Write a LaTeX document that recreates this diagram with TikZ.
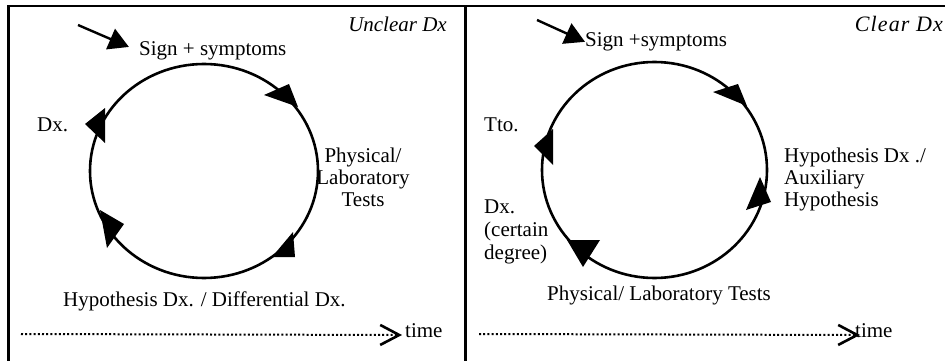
\documentclass[tikz,border=0pt]{standalone}
\usepackage{fontspec}
\setmainfont{Liberation Serif}
\usetikzlibrary{arrows.meta}
\begin{document}
\begin{tikzpicture}[x=1pt,y=-1pt,
  lbl/.style={inner sep=0pt, font=\fontsize{21}{22}\selectfont},
  lbltall/.style={inner sep=0pt, font=\fontsize{21}{23}\selectfont},
  ttl/.style={inner sep=0pt, font=\fontsize{21}{22}\selectfont\itshape},
  ttlwide/.style={inner sep=0pt, font=\fontsize{22}{22}\selectfont\itshape\addfontfeature{LetterSpace=5}},
  frameline/.style={line width=2.5pt},
  cyc/.style={line width=2.6pt},
  headfill/.style={fill=black},
  inarrow/.style={line width=2.4pt, -{Triangle[length=20pt,width=22pt]}},
  timeline/.style={line width=2pt, dash pattern=on 2pt off 2.2pt,
    -{Straight Barb[length=19pt,width=20pt,line width=2.6pt]}}]
\useasboundingbox (0,0) rectangle (945,361);
% frame
\draw[frameline] (8.7,361) -- (8.7,6.2) -- (945,6.2);
\draw[frameline] (465.3,6.2) -- (465.3,361);

% ---------- left panel ----------
\draw[cyc] (204,171) ellipse [x radius=114pt, y radius=107pt];
\fill[headfill] (264,95) -- (289,84) -- (298,107) -- cycle;
\fill[headfill] (85,124) -- (105,108) -- (105,143) -- cycle;
\fill[headfill] (100,210) -- (107,248) -- (124,224) -- cycle;
\fill[headfill] (272,257) -- (293,232) -- (295,257) -- cycle;

\node[ttl, anchor=base east] (h1) at (447,32) {Unclear Dx};
\node[lbl, anchor=base west] (sign1) at (139,56) {Sign + symptoms};
\node[lbl, anchor=base west] (dx1) at (37,131) {Dx.};
\node[lbl, align=center, anchor=north] (phys1) at (363,147.5) {Physical/\\Laboratory\\Tests};
\node[lbl, anchor=base west] (hyp1) at (63,306) {Hypothesis Dx. / Differential Dx.};
\node[lbl, anchor=base west] (time1) at (405,337) {time};
\coordinate (in1) at (78,25);
\draw[inarrow, shorten >=11pt] (in1) -- (sign1.west);
\coordinate (ts1) at (21,334);
\coordinate (te1) at (402,335);
\draw[timeline] (ts1) -- (te1);

% ---------- right panel ----------
\draw[cyc] (654.5,170) ellipse [x radius=112.5pt, y radius=108pt];
\fill[headfill] (713,92) -- (738,84) -- (747,106) -- cycle;
\fill[headfill] (534,146) -- (553,129) -- (553,165) -- cycle;
\fill[headfill] (760,177) -- (746,210) -- (771,202) -- cycle;
\fill[headfill] (567,240) -- (600,240) -- (583,267) -- cycle;

\node[ttlwide, anchor=base east] (h2) at (943,32) {Clear Dx};
\node[lbl, anchor=base west] (sign2) at (585,46.5) {Sign +symptoms};
\node[lbl, anchor=base west] (tto) at (484,131.5) {Tto.};
\node[lbl, align=left, anchor=north west] (hyp2) at (784,147.5) {Hypothesis Dx ./\\Auxiliary\\Hypothesis};
\node[lbltall, align=left, anchor=north west] (dx2) at (484,199.3) {Dx.\\(certain\\degree)};
\node[lbl, anchor=base west] (phys2) at (547,300) {Physical/ Laboratory Tests};
\node[lbl, anchor=base west] (time2) at (855,337) {time};
\coordinate (in2) at (537,20);
\draw[inarrow] (in2) -- (sign2.west);
\coordinate (ts2) at (479,334);
\coordinate (te2) at (860,335);
\draw[timeline] (ts2) -- (te2);
\end{tikzpicture}
\end{document}
